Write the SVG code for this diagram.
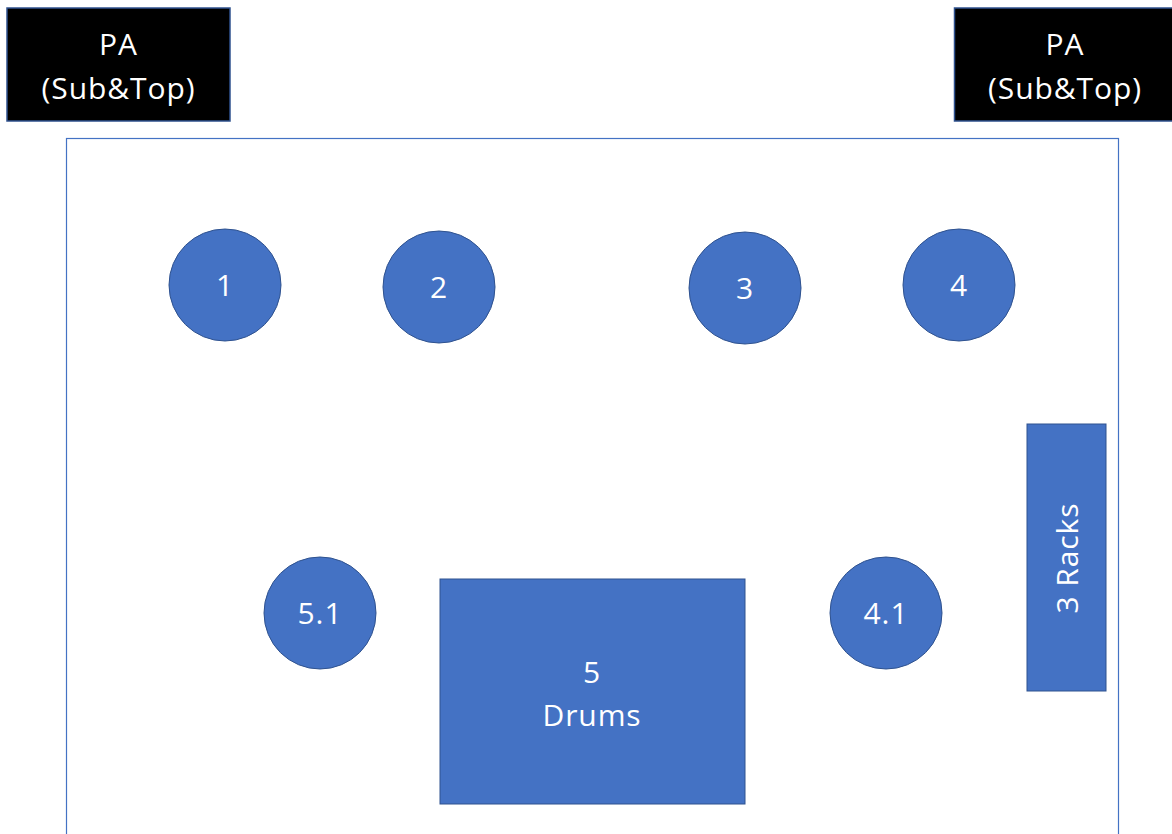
<svg xmlns="http://www.w3.org/2000/svg" width="1172" height="834" viewBox="0 0 1172 834">
<style>
.pa{fill:#000;stroke:#2F528F;stroke-width:1.5}
.blue{fill:#4472C4;stroke:#2F528F;stroke-width:1}
.t{font-family:"Open Sans","Noto Sans",sans-serif;font-size:30px;fill:#fff;text-anchor:middle;letter-spacing:0.9px}
</style>
<rect width="1172" height="834" fill="#fff"/>
<rect id="stage" x="66.5" y="138.5" width="1052" height="720" fill="none" stroke="#4472C4" stroke-width="1.2"/>
<g id="pa-left"><rect class="pa" x="7" y="8" width="223" height="113"/><text class="t" x="118.5" y="55">PA</text><text class="t" x="118.5" y="99">(Sub&amp;Top)</text></g>
<g id="pa-right"><rect class="pa" x="954.5" y="8" width="220" height="113"/><text class="t" x="1065" y="55">PA</text><text class="t" x="1065" y="99">(Sub&amp;Top)</text></g>
<g id="n1"><circle class="blue" cx="225" cy="285" r="56"/><text class="t" x="225" y="296">1</text></g>
<g id="n2"><circle class="blue" cx="439" cy="287" r="56"/><text class="t" x="439" y="298">2</text></g>
<g id="n3"><circle class="blue" cx="745" cy="288" r="56"/><text class="t" x="745" y="299">3</text></g>
<g id="n4"><circle class="blue" cx="959" cy="285" r="56"/><text class="t" x="959" y="296">4</text></g>
<g id="n51"><circle class="blue" cx="320" cy="613" r="56"/><text class="t" x="320" y="624">5.1</text></g>
<g id="n41"><circle class="blue" cx="886" cy="613" r="56"/><text class="t" x="886" y="624">4.1</text></g>
<g id="drums"><rect class="blue" x="440" y="579" width="305" height="225"/><text class="t" x="592" y="683">5</text><text class="t" x="592" y="726">Drums</text></g>
<g id="racks"><rect class="blue" x="1027" y="424" width="79" height="267"/><text class="t" transform="translate(1078 558) rotate(-90)" x="0" y="0">3 Racks</text></g>
<g id="connectors"></g>
</svg>
